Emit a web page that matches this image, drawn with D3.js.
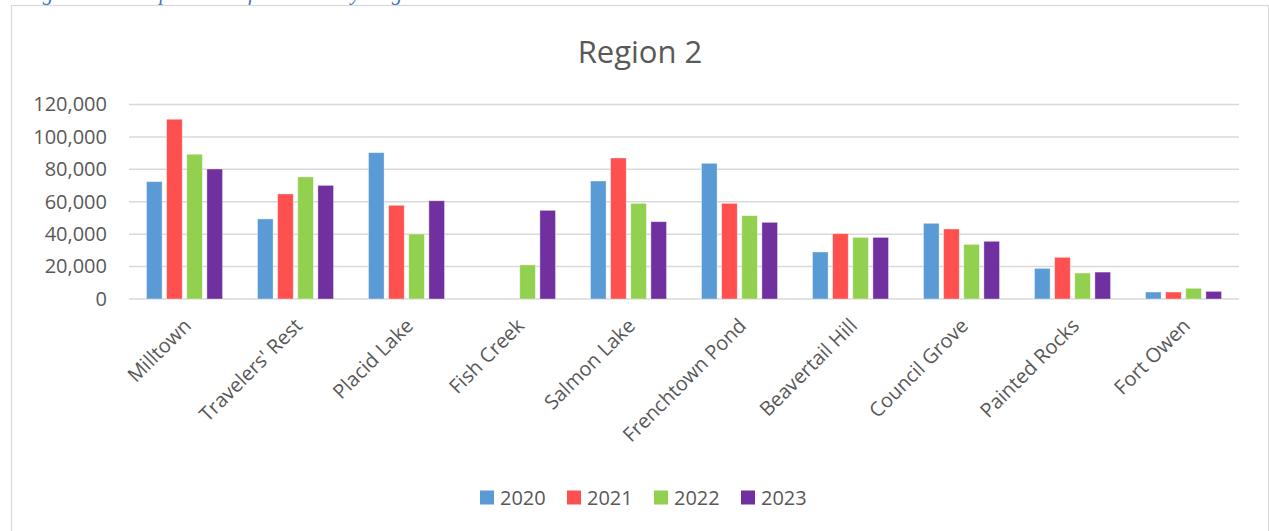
<!DOCTYPE html>
<html>
<head>
<meta charset="utf-8">
<script src="https://cdn.jsdelivr.net/npm/d3@7"></script>
<style>
  body { margin: 0; background: #fff; }
  text { font-family: "Open Sans", sans-serif; }
</style>
</head>
<body>
<div id="chart"></div>
<script>
var categories = ['Milltown', "Travelers' Rest", 'Placid Lake', 'Fish Creek', 'Salmon Lake',
                  'Frenchtown Pond', 'Beavertail Hill', 'Council Grove', 'Painted Rocks', 'Fort Owen'];
var years = ['2020', '2021', '2022', '2023'];
var v2020 = [72400, 49400, 90300, 0, 72800, 83700, 29000, 46700, 18900, 4300];
var v2021 = [110900, 64800, 57800, 0, 87000, 59000, 40300, 43200, 25700, 4300];
var v2022 = [89300, 75300, 40100, 21000, 59000, 51400, 38000, 33700, 16000, 6600];
var v2023 = [80200, 70100, 60600, 54700, 47700, 47300, 38000, 35600, 16600, 4700];
var yTicks = [0, 20000, 40000, 60000, 80000, 100000, 120000];

var colors = ['#5B9BD5', '#FF5050', '#92D050', '#7030A0'];
var series = [v2020, v2021, v2022, v2023];

var pic_width = 1269,
    pic_height = 531;

// plot area inside the svg
var plot = { left: 129, right: 1239, top: 104.5, bottom: 299 };

var svg = d3.select('#chart').append('svg')
    .attr('width', pic_width)
    .attr('height', pic_height);

// caption of the document, mostly cut off at the top
svg.append('text')
    .attr('x', 22)
    .attr('y', 0)
    .attr('textLength', 410)
    .attr('lengthAdjust', 'spacing')
    .style('font-family', '"Liberation Serif", serif')
    .style('font-style', 'italic')
    .style('font-size', '21px')
    .style('fill', '#4472C4')
    .text('Figure 2: Comparison of Visitors by Region');

// chart frame
svg.append('rect')
    .attr('x', 11.5)
    .attr('y', 5.5)
    .attr('width', 1257)
    .attr('height', 540)
    .attr('fill', '#fff')
    .attr('stroke', '#d9d9d9')
    .attr('stroke-width', 1.2);

var x0 = d3.scaleBand()
    .domain(categories)
    .range([plot.left, plot.right]);

var x1 = d3.scaleBand()
    .domain(years)
    .range([17.5, x0.bandwidth() - 17.5])
    .paddingInner(0.225);

var y = d3.scaleLinear()
    .domain([0, 120000])
    .range([plot.bottom, plot.top]);

// gridlines
svg.append('g')
    .selectAll('line').data(yTicks)
    .enter().append('line')
    .attr('x1', plot.left)
    .attr('x2', plot.right)
    .attr('y1', function(d) { return y(d); })
    .attr('y2', function(d) { return y(d); })
    .attr('stroke', '#d9d9d9')
    .attr('stroke-width', 1.5);

// y axis labels
var yAxis = d3.axisLeft(y).tickValues(yTicks).tickSize(0).tickPadding(0)
    .tickFormat(d3.format(','));
var yg = svg.append('g')
    .attr('transform', 'translate(107, 0)')
    .call(yAxis);
yg.select('.domain').remove();
yg.selectAll('text')
    .style('font-family', '"Open Sans", sans-serif')
    .style('font-size', '20px')
    .style('fill', '#595959');

// bars
var groups = svg.append('g')
    .selectAll('g').data(categories)
    .enter().append('g')
    .attr('transform', function(d) { return 'translate(' + x0(d) + ', 0)'; });

groups.selectAll('rect')
    .data(function(d, i) {
        return years.map(function(yr, s) { return { year: yr, value: series[s][i], s: s }; });
    })
    .enter().append('rect')
    .filter(function(d) { return d.value > 0; })
    .attr('x', function(d) { return x1(d.year); })
    .attr('width', x1.bandwidth())
    .attr('y', function(d) { return y(d.value); })
    .attr('height', function(d) { return y(0) - y(d.value); })
    .style('fill', function(d) { return colors[d.s]; })
    .style('stroke', 'rgba(255,255,255,0.45)')
    .style('stroke-width', 0.8);

// rotated category labels
svg.append('g')
    .selectAll('text').data(categories)
    .enter().append('text')
    .attr('transform', function(d) {
        return 'translate(' + (x0(d) + x0.bandwidth() / 2 + 8) + ', 327) rotate(-45)';
    })
    .attr('text-anchor', 'end')
    .style('font-size', '20px')
    .style('fill', '#595959')
    .text(function(d) { return d; });

// title
svg.append('text')
    .attr('x', 640)
    .attr('y', 63)
    .attr('text-anchor', 'middle')
    .style('font-size', '31px')
    .style('fill', '#595959')
    .text('Region 2');

// legend
var legend = svg.append('g')
    .selectAll('g').data(years)
    .enter().append('g')
    .attr('transform', function(d, i) { return 'translate(' + (480 + i * 87) + ', 490.5)'; });

legend.append('rect')
    .attr('width', 14)
    .attr('height', 14)
    .style('fill', function(d, i) { return colors[i]; });

legend.append('text')
    .attr('x', 20)
    .attr('y', 14.5)
    .style('font-size', '20px')
    .style('fill', '#595959')
    .text(function(d) { return d; });
</script>
</body>
</html>
